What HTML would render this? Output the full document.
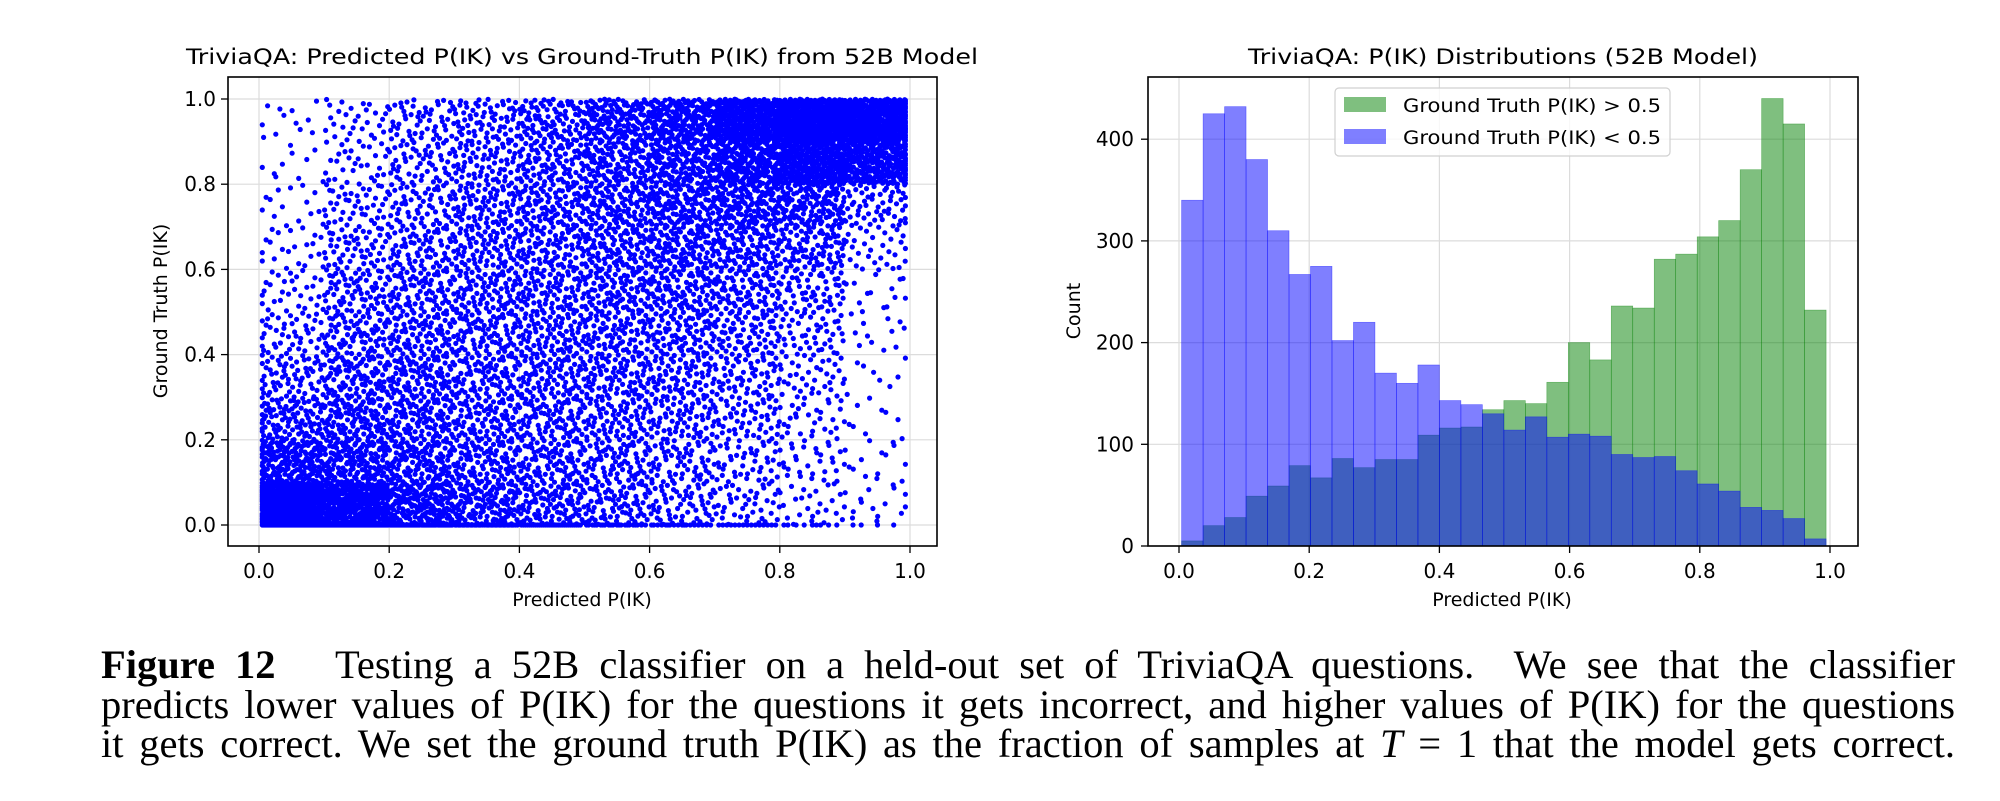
<!DOCTYPE html>
<html><head><meta charset="utf-8">
<style>
html,body{margin:0;padding:0;background:#fff;width:2000px;height:801px;overflow:hidden;}
svg text{font-family:"DejaVu Sans","Liberation Sans",sans-serif;fill:#000;}
#caption{position:absolute;left:101px;top:645px;width:1854px;font-family:"Liberation Serif",serif;font-size:40.5px;line-height:39.5px;color:#000;}
#caption div{text-align:justify;text-align-last:justify;white-space:nowrap;}
</style></head>
<body>
<svg id="fig" width="2000" height="630" style="position:absolute;left:0;top:0">
<g id="scatter"></g>
<g id="hist"></g>
</svg>
<div id="caption">
<div><b>Figure 12</b>&nbsp;&nbsp; Testing a 52B classifier on a held-out set of TriviaQA questions.&nbsp; We see that the classifier</div>
<div>predicts lower values of P(IK) for the questions it gets incorrect, and higher values of P(IK) for the questions</div>
<div>it gets correct. We set the ground truth P(IK) as the fraction of samples at <i>T</i> = 1 that the model gets correct.</div>
</div>
<script>
// ---- Scatter data: point counts per 0.1x0.1 cell (rows from y=0 upward)
const scatterRows = [
  [480,300,190,130,100,80,62,42,25,15],
  [180,150,120,95,88,78,62,46,30,14],
  [100,115,105,88,86,78,70,55,30,9],
  [65,95,95,85,85,85,75,60,38,8],
  [45,80,85,85,85,85,85,70,45,12],
  [30,70,80,85,85,95,95,85,60,15],
  [22,55,70,80,85,100,110,100,85,30],
  [15,45,60,80,95,110,125,140,130,55],
  [10,30,55,70,90,115,150,220,290,250],
  [12,30,55,70,95,140,200,330,450,420]
];
const scatterZeroRow = [100,80,60,45,30,22,18,15,9,4];
const scatterTicks = [0.0,0.2,0.4,0.6,0.8,1.0];
// ---- Histogram data
const histEdgesStart = 0.004, histBinWidth = 0.033;
const histGreen = [5,20,28,49,59,79,67,86,77,85,85,109,116,117,134,143,140,161,200,183,236,234,282,287,304,320,370,440,415,232];
const histBlue = [340,425,432,380,310,267,275,202,220,170,160,178,143,139,130,114,127,107,110,108,90,87,88,74,61,54,38,35,27,7];
const histXTicks = [0.0,0.2,0.4,0.6,0.8,1.0];
const histYTicks = [0,100,200,300,400];

const NS='http://www.w3.org/2000/svg';
function mk(parent,tag,attrs,text){const e=document.createElementNS(NS,tag);for(const k in attrs)e.setAttribute(k,attrs[k]);if(text!==undefined)e.textContent=text;parent.appendChild(e);return e;}
function halton(i,b){let f=1,r=0;while(i>0){f/=b;r+=f*(i%b);i=Math.floor(i/b);}return r;}

// ===== Scatter =====
const sg=document.getElementById('scatter');
const SX=v=>259+v*651, SY=v=>525-v*426;
const sL=228,sR=937,sT=77,sB=546;
const sGrid=mk(sg,'g',{});


scatterTicks.forEach(t=>{
  mk(sGrid,'line',{x1:SX(t),x2:SX(t),y1:sT,y2:sB,stroke:'#dcdcdc','stroke-width':1.2});
  mk(sGrid,'line',{x1:sL,x2:sR,y1:SY(t),y2:SY(t),stroke:'#dcdcdc','stroke-width':1.2});
});
const pts=mk(sg,'g',{fill:'#0000ff'});


let d='';
function dot(x,y){const cx=SX(x),cy=SY(y);d+='M'+(cx-2.6).toFixed(1)+' '+cy.toFixed(1)+'a2.6 2.6 0 1 0 5.2 0a2.6 2.6 0 1 0 -5.2 0';}
scatterRows.forEach((row,ri)=>{
  row.forEach((n,ci)=>{
    for(let i=1;i<=n;i++){
      const x=Math.min(0.993,Math.max(0.005,(ci+halton(i+ri*7+ci*13,2))*0.1));
      const y=Math.min(1.0,(ri+halton(i+ri*7+ci*13,3))*0.1);
      dot(x,y);
    }
  });
});
scatterZeroRow.forEach((n,ci)=>{for(let i=1;i<=n;i++){dot(Math.max(0.005,(ci+halton(i,2))*0.1),0);}});
mk(pts,'path',{d:d});
const sAx=mk(sg,'g',{});


mk(sAx,'rect',{x:sL,y:sT,width:sR-sL,height:sB-sT,fill:'none',stroke:'#000','stroke-width':1.6});
scatterTicks.forEach(t=>{
  mk(sAx,'line',{x1:SX(t),x2:SX(t),y1:sB,y2:sB+7,stroke:'#000','stroke-width':1.3});
  const xl=mk(sAx,'text',{x:SX(t),y:578,'font-size':20,'text-anchor':'middle'},t.toFixed(1));
  
  
  mk(sAx,'line',{x1:sL-7,x2:sL,y1:SY(t),y2:SY(t),stroke:'#000','stroke-width':1.3});
  const yl=mk(sAx,'text',{x:216,y:SY(t)+7,'font-size':20,'text-anchor':'end'},t.toFixed(1));
  
  
});
const st=mk(sg,'text',{x:582,y:64,'font-size':21,'text-anchor':'middle',textLength:792,lengthAdjust:'spacingAndGlyphs'},'TriviaQA: Predicted P(IK) vs Ground-Truth P(IK) from 52B Model');


const sxt=mk(sg,'text',{x:582,y:606,'font-size':19,'text-anchor':'middle'},'Predicted P(IK)');


const syt=mk(sg,'text',{x:0,y:0,'font-size':19,'text-anchor':'middle',transform:'translate(167,311) rotate(-90)'},'Ground Truth P(IK)');



// ===== Histogram =====
const hg=document.getElementById('hist');
const HX=v=>1179+v*651, HY=v=>546-v*1.017;
const hL=1148,hR=1858,hT=77,hB=546;
const hGrid=mk(hg,'g',{});


histXTicks.forEach(t=>mk(hGrid,'line',{x1:HX(t),x2:HX(t),y1:hT,y2:hB,stroke:'#dcdcdc','stroke-width':1.2}));
histYTicks.forEach(t=>mk(hGrid,'line',{x1:hL,x2:hR,y1:HY(t),y2:HY(t),stroke:'#dcdcdc','stroke-width':1.2}));
const gG=mk(hg,'g',{});


histGreen.forEach((v,i)=>{
  const x0=HX(histEdgesStart+i*histBinWidth),x1=HX(histEdgesStart+(i+1)*histBinWidth);
  const r=mk(gG,'rect',{x:x0,y:HY(v),width:x1-x0,height:HY(0)-HY(v),fill:'#008000','fill-opacity':0.5,stroke:'#008000','stroke-opacity':0.5,'stroke-width':0.6});
  
  
});
const bG=mk(hg,'g',{});


histBlue.forEach((v,i)=>{
  const x0=HX(histEdgesStart+i*histBinWidth),x1=HX(histEdgesStart+(i+1)*histBinWidth);
  const r=mk(bG,'rect',{x:x0,y:HY(v),width:x1-x0,height:HY(0)-HY(v),fill:'#0000ff','fill-opacity':0.5,stroke:'#0000ff','stroke-opacity':0.5,'stroke-width':0.6});
  
  
});
const hAx=mk(hg,'g',{});


mk(hAx,'rect',{x:hL,y:hT,width:hR-hL,height:hB-hT,fill:'none',stroke:'#000','stroke-width':1.6});
histXTicks.forEach(t=>{
  mk(hAx,'line',{x1:HX(t),x2:HX(t),y1:hB,y2:hB+7,stroke:'#000','stroke-width':1.3});
  const xl=mk(hAx,'text',{x:HX(t),y:578,'font-size':20,'text-anchor':'middle'},t.toFixed(1));
  
  
});
histYTicks.forEach(t=>{
  mk(hAx,'line',{x1:hL-7,x2:hL,y1:HY(t),y2:HY(t),stroke:'#000','stroke-width':1.3});
  const yl=mk(hAx,'text',{x:1134,y:HY(t)+7,'font-size':20,'text-anchor':'end'},String(t));
  
  
});
const ht=mk(hg,'text',{x:1503,y:64,'font-size':21,'text-anchor':'middle',textLength:510,lengthAdjust:'spacingAndGlyphs'},'TriviaQA: P(IK) Distributions (52B Model)');


const hxt=mk(hg,'text',{x:1502,y:606,'font-size':19,'text-anchor':'middle'},'Predicted P(IK)');


const hyt=mk(hg,'text',{x:0,y:0,'font-size':19,'text-anchor':'middle',transform:'translate(1080,311) rotate(-90)'},'Count');


// legend
const lg=mk(hg,'g',{});


mk(lg,'rect',{x:1335,y:88,width:335,height:68,rx:4,fill:'#fff','fill-opacity':0.8,stroke:'#d0d0d0','stroke-width':1.2});
const le1=mk(lg,'g',{});


mk(le1,'rect',{x:1344,y:97,width:42,height:15,fill:'#008000','fill-opacity':0.5});
mk(le1,'text',{x:1403,y:112,'font-size':19,textLength:258,lengthAdjust:'spacingAndGlyphs'},'Ground Truth P(IK) > 0.5');
const le2=mk(lg,'g',{});


mk(le2,'rect',{x:1344,y:129,width:42,height:15,fill:'#0000ff','fill-opacity':0.5});
mk(le2,'text',{x:1403,y:144,'font-size':19,textLength:258,lengthAdjust:'spacingAndGlyphs'},'Ground Truth P(IK) < 0.5');
</script>
</body></html>
